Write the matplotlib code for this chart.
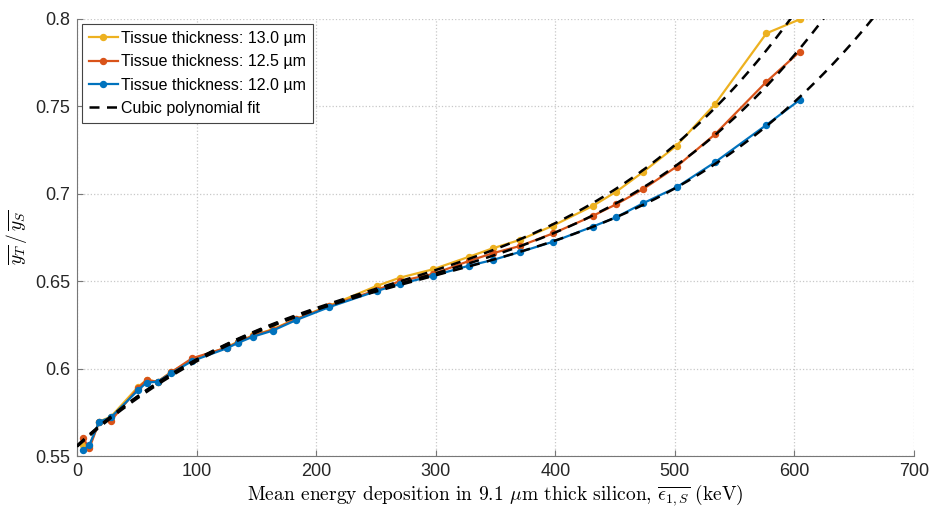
import numpy as np
import matplotlib
matplotlib.use("Agg")
import matplotlib.pyplot as plt

# mean energy deposition in silicon (keV)
energy = [5.3, 10.3, 18.6, 28.4, 51.3, 58.2, 67.4, 78.6, 96.2, 125.2, 134.9, 147.4,
          163.6, 183.4, 211.0, 250.7, 270.0, 297.7, 328.0, 347.6, 370.4, 398.3,
          431.2, 451.0, 473.5, 501.4, 533.5, 576.6, 604.5]

ratio_130 = [0.5563, 0.5555, 0.5697, 0.5725, 0.5897, 0.5935, 0.5925, 0.5980, 0.6050,
             0.6122, 0.6155, 0.6190, 0.6225, 0.6285, 0.6360, 0.6473, 0.6520, 0.6568,
             0.6640, 0.6688, 0.6736, 0.6818, 0.6930, 0.7012, 0.7125, 0.7275, 0.7512,
             0.7918, 0.7998]
ratio_125 = [0.5601, 0.5544, 0.5697, 0.5702, 0.5890, 0.5935, 0.5925, 0.5978, 0.6059,
             0.6120, 0.6152, 0.6188, 0.6222, 0.6283, 0.6357, 0.6450, 0.6500, 0.6541,
             0.6616, 0.6660, 0.6701, 0.6774, 0.6873, 0.6940, 0.7027, 0.7155, 0.7340,
             0.7641, 0.7813]
ratio_120 = [0.5534, 0.5563, 0.5696, 0.5721, 0.5878, 0.5920, 0.5925, 0.5973, 0.6043,
             0.6116, 0.6148, 0.6183, 0.6217, 0.6278, 0.6352, 0.6444, 0.6484, 0.6531,
             0.6589, 0.6621, 0.6667, 0.6726, 0.6812, 0.6866, 0.6946, 0.7037, 0.7180,
             0.7394, 0.7537]

labels = ['Tissue thickness: 13.0 µm', 'Tissue thickness: 12.5 µm',
          'Tissue thickness: 12.0 µm']
colors = ['#EDB120', '#D95319', '#0072BD']

plt.rcParams['font.family'] = ['Liberation Sans', 'DejaVu Sans']
plt.rcParams['mathtext.fontset'] = 'cm'

fig = plt.figure(figsize=(9.31, 5.09), dpi=100, facecolor='w')
ax = fig.add_axes([0.0827, 0.1041, 0.899, 0.8586])

x = np.array(energy)
x_fit = np.linspace(0, 700, 400)
series = [ratio_130, ratio_125, ratio_120]
for ys, c, lab in zip(series, colors, labels):
    ax.plot(x, ys, '-', color=c, lw=1.6, marker='o', ms=4.3, label=lab, zorder=3)

for i, ys in enumerate(series):
    coef = np.polyfit(x, ys, 3)
    ax.plot(x_fit, np.polyval(coef, x_fit), '--', color='k', lw=1.8,
            dashes=(4, 3), zorder=4,
            label='Cubic polynomial fit' if i == 0 else None)

ax.set_xlim(0, 700)
ax.set_ylim(0.55, 0.8)
ax.set_xticks(np.arange(0, 701, 100))
ax.set_yticks([0.55, 0.6, 0.65, 0.7, 0.75, 0.8])
ax.set_yticklabels(['0.55', '0.6', '0.65', '0.7', '0.75', '0.8'])
ax.grid(True, ls=':', color='#c8c8c8', lw=0.9)
ax.set_axisbelow(True)
for sp in ('top', 'right'):
    ax.spines[sp].set_visible(False)
for sp in ('left', 'bottom'):
    ax.spines[sp].set_color('#777777')
ax.tick_params(direction='in', length=4, color='#777777', labelsize=13,
               labelcolor='#262626', pad=5)

ax.set_xlabel(r'Mean energy deposition in 9.1 $\mu$m thick silicon, $\overline{\epsilon_{1,S}}$ (keV)',
              fontfamily='cmr10', fontsize=14, labelpad=2)
ax.set_ylabel(r'$\overline{y_T}\,/\,\overline{y_S}$', fontsize=14, labelpad=4)

leg = ax.legend(loc='upper left', fontsize=11.5, fancybox=False, framealpha=1,
                edgecolor='#444444', handlelength=1.8, borderaxespad=0.3,
                handletextpad=0.2, labelspacing=0.52, borderpad=0.45)
leg.get_frame().set_linewidth(0.8)

fig.savefig('out.png', dpi=100)
